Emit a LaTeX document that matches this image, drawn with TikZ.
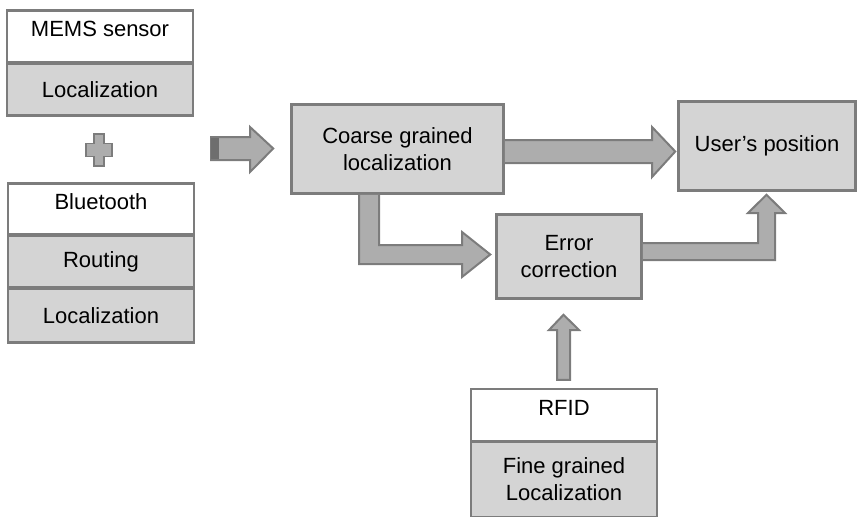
\documentclass[tikz,border=0pt]{standalone}
\usepackage{fontspec}
\setmainfont{Liberation Sans}
\usetikzlibrary{calc}
\definecolor{cellgray}{HTML}{D4D4D4}
\definecolor{linegray}{HTML}{7C7C7C}
\definecolor{arrowfill}{HTML}{ADADAD}
\definecolor{arrowdark}{HTML}{6E6E6E}
\tikzset{
  cellbase/.style={draw=linegray, line width=2.5pt, inner sep=0pt, align=center,
    font=\fontsize{22}{27}\selectfont},
  cellg/.style={cellbase, fill=cellgray},
  cellw/.style={cellbase, fill=white, text height=16pt, text depth=16pt},
  barrow/.style={fill=arrowfill, draw=linegray, line width=2pt, line join=miter},
}
\begin{document}
\begin{tikzpicture}[x=1pt,y=-1pt]
\useasboundingbox (0,0) rectangle (858,516);
\clip (0,0) rectangle (858,516);
% left stacks
\node[cellw, minimum width=186pt, minimum height=52pt] (mems) at (100,36.5) {MEMS sensor};
\node[cellg, minimum width=186pt, minimum height=52pt] (memsloc) at (100,89.5) {Localization};
\node[cellw, minimum width=186pt, minimum height=51pt] (bt) at (101,209) {Bluetooth};
\node[cellg, minimum width=186pt, minimum height=52pt] (btr) at (101,261.5) {Routing};
\node[cellg, minimum width=186pt, minimum height=54pt] (btl) at (101,315.5) {Localization};
% plus sign
\draw[barrow, line width=1.8pt] (94,134) -- (104,134) -- (104,143.5) -- (112,143.5) -- (112,156.5)
  -- (104,156.5) -- (104,166) -- (94,166) -- (94,156.5) -- (86,156.5) -- (86,143.5) -- (94,143.5) -- cycle;
% main boxes
\node[cellg, minimum width=212pt, minimum height=89pt] (coarse) at (397.5,149) {Coarse grained\\localization};
\node[cellg, minimum width=177pt, minimum height=89pt] (user) at (767,146) {User’s position};
\node[cellg, minimum width=145pt, minimum height=84pt] (error) at (569,256.5) {Error\\correction};
\node[cellw, minimum width=186pt, minimum height=52pt] (rfid) at (564,415) {RFID};
\node[cellg, minimum width=186pt, minimum height=75pt] (rfidloc) at (564,479.5) {Fine grained\\Localization};
% input arrow
\coordinate (inA) at (211,148.5);
\draw[barrow] ($(inA)+(0,-11.5)$) -- (250,137) -- (250,127) -- ($(coarse.west |- inA)+(-17,0)$)
  -- (250,172) -- (250,160) -- ($(inA)+(0,11.5)$) -- cycle;
\fill[arrowdark] ($(inA)+(0,-10.5)$) rectangle ($(inA)+(8,10.5)$);
% coarse -> user
\draw[barrow] (coarse.east |- 0,140) -- (652,140) -- (652,127) -- ($(user.west |- 0,151.5)+(-2,0)$)
  -- (652,177) -- (652,163) -- (coarse.east |- 0,163);
% coarse -> error (elbow)
\draw[barrow] (359,0 |- coarse.south) -- (359,264) -- (462,264) -- (462,277)
  -- ($(error.west |- 0,254.5)+(-5,0)$) -- (462,232) -- (462,245) -- (379,245) -- (379,0 |- coarse.south);
% error -> user (elbow)
\draw[barrow] (error.east |- 0,243) -- (758,243) -- (758,213) -- (748,213)
  -- ($(user.south -| 766.5,0)+(0,3)$) -- (785,213) -- (775,213) -- (775,260) -- (error.east |- 0,260);
% rfid -> error
\draw[barrow] ($(rfid.north -| 557,0)+(0,-8)$) -- (557,330) -- (549,330) -- ($(error.south -| 563.5,0)+(0,15)$)
  -- (579,330) -- (570,330) -- ($(rfid.north -| 570,0)+(0,-8)$) -- cycle;
\end{tikzpicture}
\end{document}
